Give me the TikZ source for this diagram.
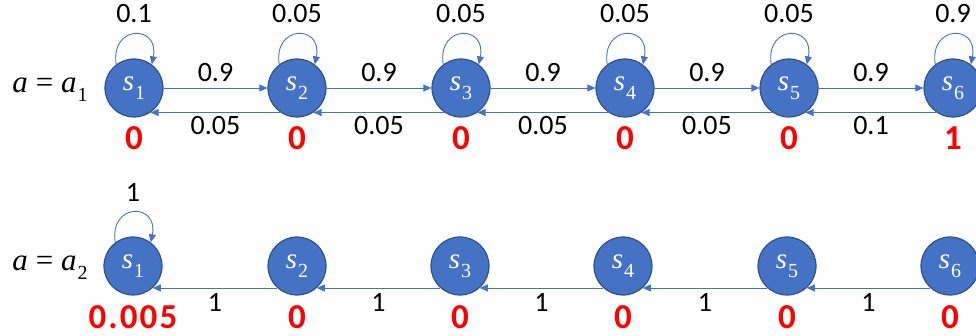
\documentclass[tikz,border=0pt]{standalone}
\usepackage{fontspec}
\setmainfont{Carlito}
\newfontfamily\mathlike{Liberation Serif}
\usetikzlibrary{arrows.meta,calc}
\definecolor{nodefill}{HTML}{4472C4}
\definecolor{nodeline}{HTML}{2F528F}
\definecolor{arrowc}{HTML}{4472C4}
\newcommand\symsub[2]{{\itshape #1}\hspace{1pt}\raisebox{-0.3em}{\fontsize{20}{20}\selectfont #2}}
\begin{document}
\begin{tikzpicture}[x=1pt,y=-1pt,
  st/.style={circle,fill=nodefill,draw=nodeline,line width=1.2pt,minimum size=58pt,inner sep=0pt,text=white,font=\mathlike\fontsize{29}{30}\selectfont},
  arr/.style={draw=arrowc,line width=0.9pt,-{Triangle[length=8pt,width=7pt]}},
  lbl/.style={font=\fontsize{28}{30}\selectfont,text=black},
  rew/.style={font=\addfontfeature{LetterSpace=6}\fontsize{35}{38}\selectfont\bfseries,text=red},
  act/.style={font=\mathlike\fontsize{31}{32}\selectfont}]
\clip (0,0) rectangle (976,336);
\useasboundingbox (0,0) rectangle (976,336);
% row 1
\foreach \i/\x in {1/134,2/297,3/461,4/625,5/789,6/953}{
  \node[st] (a\i) at (\x,88) {\raisebox{-4pt}{\symsub{s}{\i}}};
}
\node[act] (lab1) at (50,90) {{\itshape a}\hspace{8pt}=\hspace{8pt}\symsub{a}{1}};
\foreach \i/\j in {1/2,2/3,3/4,4/5,5/6}{
  \draw[arr] (a\i.east) -- (a\j.west) node[lbl,midway,above=2pt] {0.9};
}
\foreach \i/\j/\p in {2/1/0.05,3/2/0.05,4/3/0.05,5/4/0.05,6/5/0.1}{
  \draw[arr] (a\i.236) -- (a\j.-56) node[lbl,midway,below=0pt] {\p};
}
\foreach \i/\p in {1/0.1,2/0.05,3/0.05,4/0.05,5/0.05,6/0.9}{
  \draw[arr] (a\i.127) .. controls +(-6,-40) and +(8,-40) .. (a\i.53);
  \node[lbl] (pl\i) at ($(a\i)+(0,-74)$) {\p};
}
\foreach \i/\r in {1/0,2/0,3/0,4/0,5/0,6/1}{
  \node[rew] (r\i) at ($(a\i)+(0,50)$) {\r};
}
% row 2
\foreach \i/\x in {1/133,2/297,3/460,4/623,5/787,6/950}{
  \node[st] (b\i) at (\x,266) {\raisebox{-4pt}{\symsub{s}{\i}}};
}
\node[act] (lab2) at (50,268) {{\itshape a}\hspace{8pt}=\hspace{8pt}\symsub{a}{2}};
\foreach \i/\j in {2/1,3/2,4/3,5/4,6/5}{
  \draw[arr] (b\i.228) -- (b\j.-48) node[lbl,midway,below=2pt] {1};
}
\draw[arr] (b1.127) .. controls +(-6,-40) and +(8,-40) .. (b1.53);
\node[lbl] (ql1) at (133,192) {1};
\foreach \i/\r in {1/0.005,2/0,3/0,4/0,5/0,6/0}{
  \node[rew] (q\i) at ($(b\i)+(0,51)$) {\r};
}
\end{tikzpicture}
\end{document}
